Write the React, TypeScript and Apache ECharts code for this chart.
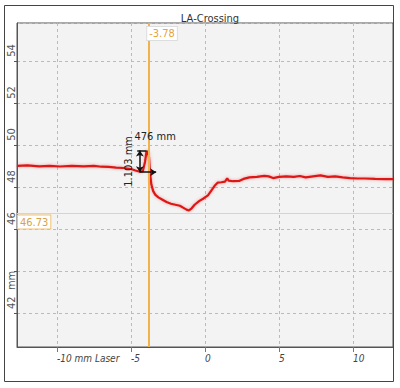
import React, { useEffect, useRef } from "react";
import * as echarts from "echarts";

const profileX: number[] = [-12.7, -12.0, -11.2, -10.5, -9.8, -9.0, -8.2, -7.5, -7.0, -6.5, -6.0, -5.5, -5.0, -4.7, -4.4, -4.2, -4.05, -3.95, -3.85, -3.78, -3.72, -3.62, -3.5, -3.35, -3.15, -2.9, -2.6, -2.3, -2.0, -1.7, -1.45, -1.25, -1.08, -0.9, -0.7, -0.4, -0.1, 0.2, 0.45, 0.65, 0.85, 1.1, 1.35, 1.5, 1.6, 1.9, 2.3, 2.6, 3.0, 3.5, 4.0, 4.3, 4.6, 5.0, 5.5, 6.0, 6.4, 6.8, 7.3, 7.8, 8.3, 8.8, 9.3, 9.8, 10.3, 10.8, 11.5, 12.2, 12.7];
const profileY: number[] = [49.0, 49.02, 48.98, 49.0, 48.97, 49.0, 48.98, 49.0, 48.96, 48.95, 48.92, 48.9, 48.85, 48.78, 48.72, 48.75, 49.2, 49.7, 49.65, 49.4, 48.7, 48.1, 47.8, 47.62, 47.5, 47.4, 47.28, 47.2, 47.15, 47.1, 47.0, 46.92, 46.88, 46.98, 47.15, 47.32, 47.45, 47.6, 47.85, 48.05, 48.2, 48.22, 48.25, 48.4, 48.3, 48.27, 48.28, 48.38, 48.45, 48.48, 48.52, 48.5, 48.42, 48.48, 48.5, 48.48, 48.52, 48.45, 48.5, 48.55, 48.48, 48.5, 48.45, 48.42, 48.4, 48.4, 48.38, 48.37, 48.37];

const cursorX = -3.78;
const cursorY = 46.73;
const xRange = [-12.7, 12.7];
const yRange = [40.38, 55.8];

// measurement annotation: vertical span and horizontal span
const measureV = { x: -4.4, y0: 48.7, y1: 49.73, label: "1.103 mm" };
const measureH = { y: 48.7, x0: -4.4, x1: -3.3 };
const measureTop = { y: 49.73, x0: -4.58, x1: -3.95, label: "476 mm" };

const FONT = "'DejaVu Sans Condensed', 'Liberation Sans Narrow', 'Liberation Sans', sans-serif";

export default function App() {
  const ref = useRef<HTMLDivElement>(null);
  useEffect(() => {
    if (!ref.current) return;
    const chart = echarts.init(ref.current, null, { renderer: "svg" });
    const data = profileX.map((x, i) => [x, profileY[i]]);
    chart.setOption({
      animation: false,
      title: {
        text: "LA-Crossing",
        left: 205,
        top: 8,
        textAlign: "center",
        textStyle: { fontFamily: FONT, fontSize: 11, fontWeight: "normal", color: "#333" },
      },
      graphic: [
        {
          type: "rect",
          shape: { x: 4.5, y: 5.5, width: 389, height: 376 },
          style: { fill: "none", stroke: "#444", lineWidth: 1 },
          z: 10,
        },
      ],
      grid: {
        left: 17,
        top: 23,
        right: 7,
        bottom: 41,
        show: true,
        backgroundColor: "#f3f3f3",
        borderColor: "#555",
        borderWidth: 1,
      },
      xAxis: {
        type: "value",
        min: xRange[0],
        max: xRange[1],
        splitNumber: 5,
        axisLine: { onZero: false, lineStyle: { color: "#555" } },
        axisTick: { length: 5, lineStyle: { color: "#777" } },
        splitLine: { show: true, lineStyle: { color: "#bbb", type: [3, 3] } },
        axisLabel: {
          showMinLabel: false,
          showMaxLabel: false,
          align: "left",
          margin: 6,
          fontFamily: FONT,
          fontStyle: "italic",
          fontSize: 10,
          color: "#444",
          formatter: (v: number) => (v === -10 ? "-10 mm Laser" : String(v)),
        },
      },
      yAxis: {
        type: "value",
        min: yRange[0],
        max: yRange[1],
        splitNumber: 7,
        axisLine: { show: true, onZero: false, lineStyle: { color: "#555" } },
        axisTick: { length: 3, lineStyle: { color: "#555" } },
        splitLine: { show: true, lineStyle: { color: "#bbb", type: [3, 3] } },
        axisLabel: {
          showMinLabel: false,
          showMaxLabel: false,
          rotate: 90,
          align: "left",
          verticalAlign: "middle",
          margin: 6,
          padding: [0, 0, 0, 4],
          fontFamily: FONT,
          fontSize: 11,
          color: "#555",
          formatter: (v: number) => (v === 44 ? "" : v === 42 ? "42  mm" : String(v)),
        },
      },
      series: [
        {
          type: "line",
          data,
          showSymbol: false,
          lineStyle: { color: "#dd1515", width: 2.2, shadowColor: "rgba(230,60,60,0.5)", shadowBlur: 3 },
          z: 3,
          markLine: {
            silent: true,
            symbol: ["none", "none"],
            data: [
              {
                xAxis: cursorX,
                lineStyle: { color: "#f2b24a", width: 2, type: "solid" },
                label: {
                  show: true,
                  position: "end",
                  formatter: String(cursorX),
                  offset: [13, 22],
                  color: "#e3a43a",
                  fontFamily: FONT,
                  fontSize: 11,
                  backgroundColor: "#fff",
                  borderColor: "#ddd",
                  borderWidth: 1,
                  padding: [1, 2],
                },
              },
              {
                yAxis: cursorY,
                lineStyle: { color: "#f6cf98", width: 1, type: "solid" },
                label: {
                  show: true,
                  position: "insideStartBottom",
                  distance: [1, 2],
                  formatter: String(cursorY),
                  color: "#d8a24a",
                  fontFamily: FONT,
                  fontSize: 11,
                  backgroundColor: "#fff",
                  borderColor: "#f0c070",
                  borderWidth: 1,
                  padding: [1, 2],
                },
              },
            ],
          },
        },
        {
          type: "line",
          data: [],
          z: 5,
          markLine: {
            silent: true,
            symbolSize: 6,
            lineStyle: { color: "#111", width: 1.5, type: "solid" },
            label: { color: "#222", fontFamily: FONT, fontSize: 11 },
            data: [
              [
                { coord: [measureV.x, measureV.y0], symbol: "arrow" },
                {
                  coord: [measureV.x, measureV.y1],
                  symbol: "arrow",
                  label: { show: true, position: "middle", formatter: measureV.label, distance: 6 },
                },
              ],
              [
                { coord: [measureH.x0, measureH.y], symbol: "none" },
                { coord: [measureH.x1, measureH.y], symbol: "arrow", label: { show: false } },
              ],
              [
                { coord: [measureTop.x0, measureTop.y], symbol: "none" },
                {
                  coord: [measureTop.x1, measureTop.y],
                  symbol: "none",
                  label: { show: true, position: "end", formatter: measureTop.label, offset: [-17, -14] },
                },
              ],
            ],
          },
        },
      ],
    });
    return () => chart.dispose();
  }, []);
  return <div ref={ref} style={{ position: "fixed", left: 0, top: 0, width: 400, height: 388, background: "#fff" }} />;
}
